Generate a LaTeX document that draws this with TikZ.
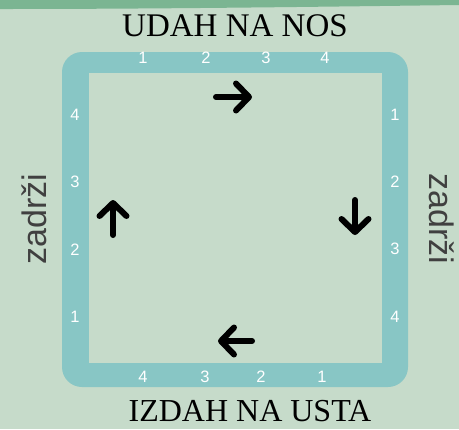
\documentclass[tikz,border=0pt]{standalone}
\usepackage{fontspec}
\setmainfont{Liberation Serif}
\setsansfont{Liberation Sans}
\usetikzlibrary{arrows.meta}

\definecolor{bggreen}{HTML}{C6DBCA}
\definecolor{bandgreen}{HTML}{7BB592}
\definecolor{frameteal}{HTML}{88C6C5}

\tikzset{
  num/.style={text=white,font=\sffamily\fontsize{16.5bp}{16.5bp}\selectfont,inner sep=0pt},
  title/.style={anchor=base,inner sep=0pt,font=\rmfamily\fontsize{33bp}{33bp}\selectfont},
  hold/.style={inner sep=0pt,text=black!75,font=\sffamily\fontsize{34bp}{34bp}\selectfont},
  breath/.style={line width=6bp,line cap=round,line join=round,-{Straight Barb[length=13bp,width=27bp,round]}}
}

\begin{document}
\begin{tikzpicture}[x=1bp,y=-1bp]
\useasboundingbox (0,0) rectangle (459,429);
\fill[bggreen] (0,0) rectangle (459,429);
\fill[bandgreen] (0,0) -- (459,0) -- (459,5) .. controls (300,7) and (150,9) .. (0,9) -- cycle;

% frame
\fill[frameteal,rounded corners=20bp] (62,52) rectangle (408,387);
\fill[bggreen] (89,73) rectangle (382,363);

% counts
\node[num] (t1) at (143,58) {1};
\node[num] (t2) at (206,58) {2};
\node[num] (t3) at (266,58) {3};
\node[num] (t4) at (325,58) {4};
\node[num] (r1) at (395,115) {1};
\node[num] (r2) at (395,182) {2};
\node[num] (r3) at (395,249) {3};
\node[num] (r4) at (395,317) {4};
\node[num] (b1) at (322,377) {1};
\node[num] (b2) at (261,377) {2};
\node[num] (b3) at (205,377) {3};
\node[num] (b4) at (143,377) {4};
\node[num] (l1) at (75,317) {1};
\node[num] (l2) at (75,250) {2};
\node[num] (l3) at (75,182) {3};
\node[num] (l4) at (75,115) {4};

% labels
\node[title] (udah) at (235,36) {UDAH NA NOS};
\node[title,font=\rmfamily\fontsize{32bp}{32bp}\selectfont] (izdah) at (250,421) {IZDAH NA USTA};
\node[hold,rotate=90] (zl) at (34,219) {zadrži};
\node[hold,rotate=-90] (zr) at (442,219) {zadrži};

% arrows
\coordinate (ta) at (216,97);
\coordinate (tb) at (252,97);
\coordinate (ra) at (355,200);
\coordinate (rb) at (355,235);
\coordinate (ba) at (252,341);
\coordinate (bb) at (218,341);
\coordinate (la) at (113,235);
\coordinate (lb) at (113,200);
\draw[breath] (ta) -- (tb);
\draw[breath] (ra) -- (rb);
\draw[breath] (ba) -- (bb);
\draw[breath] (la) -- (lb);
\end{tikzpicture}
\end{document}
